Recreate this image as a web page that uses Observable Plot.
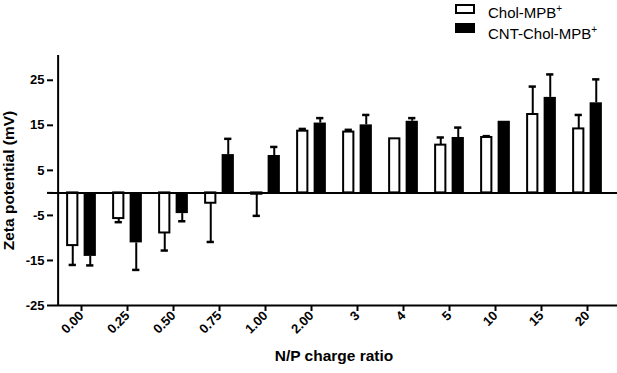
<!DOCTYPE html>
<html>
<head>
<meta charset="utf-8">
<script src="https://cdn.jsdelivr.net/npm/d3@7"></script>
<script src="https://cdn.jsdelivr.net/npm/@observablehq/plot@0.6"></script>
<style>
  body { margin: 0; background: #fff; }
  #wrap { position: relative; width: 617px; height: 373px; font-family: "Liberation Sans", Arial, sans-serif; }
  #legend { position: absolute; left: 455px; top: 0; width: 162px; height: 45px; font-size: 15px; color: #000; }
  .sw { position: absolute; left: 0; width: 20px; height: 10px; box-sizing: border-box; }
  .lab { position: absolute; left: 33px; line-height: 1; white-space: nowrap; }
  .lab sup { font-size: 10px; vertical-align: 0; position: relative; top: -6px; }
</style>
</head>
<body>
<div id="wrap">
  <div id="chart"></div>
  <div id="legend"></div>
</div>
<script>
const categories = ["0.00","0.25","0.50","0.75","1.00","2.00","3","4","5","10","15","20"];
const cholValues = [-11.7,-5.7,-8.9,-2.3,-0.3,13.7,13.5,12.0,10.6,12.3,17.4,14.2];
const cholErrors = [4.3,0.8,3.9,8.6,4.8,0.5,0.5,0,1.7,0.3,6.2,3.1];
const cntValues  = [-14.1,-11.1,-4.6,8.5,8.3,15.5,15.1,15.9,12.3,15.9,21.2,20.0];
const cntErrors  = [2.0,6.0,1.7,3.5,1.9,1.1,2.2,0.7,2.2,0,5.1,5.2];
const seriesNames = ["Chol-MPB", "CNT-Chol-MPB"];
const yTicks = [-25,-15,-5,0,5,15,25];

const chol = categories.map((c,i)=>({cat:c, value:cholValues[i], err:cholErrors[i]}));
const cnt  = categories.map((c,i)=>({cat:c, value:cntValues[i], err:cntErrors[i]}));
const end = d => d.value + Math.sign(d.value) * d.err;

const W = 617, H = 373, mL = 53, mR = 3, mT = 55, mB = 68;
const bw = (W - mL - mR) / categories.length;
const half = bw / 2;

const chart = Plot.plot({
  width: W, height: H,
  marginLeft: mL, marginRight: mR, marginTop: mT, marginBottom: mB,
  style: {fontFamily: "'Liberation Sans', Arial, sans-serif", fontSize: "13px", fontWeight: "bold", color: "#000", background: "#fff", overflow: "visible"},
  x: {type: "band", domain: categories, padding: 0, axis: null},
  y: {domain: [-25, 30.5], axis: null},
  marks: [
    Plot.barY(chol, {x:"cat", y1:0, y2:"value", fill:"white", stroke:"black", strokeWidth:2, insetLeft: half-14.25, insetRight: half+3.25}),
    Plot.barY(cnt, {x:"cat", y1:0, y2:"value", fill:"black", insetLeft: half+2.25, insetRight: half-15.25}),
    Plot.ruleX(chol.filter(d=>d.err>0), {x:"cat", y1:"value", y2:end, dx:-8.75, stroke:"black", strokeWidth:2}),
    Plot.ruleX(cnt.filter(d=>d.err>0), {x:"cat", y1:"value", y2:end, dx:8.75, stroke:"black", strokeWidth:2}),
    Plot.tickY(chol.filter(d=>d.err>0), {x:"cat", y:end, stroke:"black", strokeWidth:2.5, insetLeft: half-12.75, insetRight: half+4.75}),
    Plot.tickY(cnt.filter(d=>d.err>0), {x:"cat", y:end, stroke:"black", strokeWidth:2.5, insetLeft: half+4.75, insetRight: half-12.75}),
    Plot.ruleY([0], {stroke:"black", strokeWidth:2, insetLeft:-4, insetRight:-3}),
    Plot.ruleY([-25], {stroke:"black", strokeWidth:2, insetRight:-3}),
    Plot.ruleX([categories[0]], {y1:-25, y2:30.5, dx:-half, stroke:"black", strokeWidth:2}),
    Plot.axisY({ticks: yTicks, tickFormat: d => d === 0 ? "" : String(d), tickSize: 6, tickPadding: 3, strokeWidth: 2, label: null, fontSize: 13, fontWeight: "bold"}),
    Plot.axisX({tickRotate: -45, tickSize: 6, tickPadding: 2, strokeWidth: 2, label: null, fontSize: 13, fontWeight: "bold"}),
    Plot.text(["Zeta potential (mV)"], {frameAnchor: "left", dx: -40, rotate: -90, textAnchor: "middle", lineAnchor: "bottom", fontSize: 15.5, fontWeight: "bold"}),
    Plot.text(["N/P charge ratio"], {frameAnchor: "bottom", dy: 51, textAnchor: "middle", lineAnchor: "middle", fontSize: 15.5, fontWeight: "bold"})
  ]
});
document.getElementById("chart").appendChild(chart);

const legend = document.getElementById("legend");
const items = [
  {name: seriesNames[0], fill: "#fff", top: 3.5, textTop: 5},
  {name: seriesNames[1], fill: "#000", top: 23, textTop: 25.5}
];
items.forEach(it => {
  const sw = document.createElement("div");
  sw.className = "sw";
  sw.style.top = it.top + "px";
  sw.style.background = it.fill;
  sw.style.border = "2px solid #000";
  legend.appendChild(sw);
  const lab = document.createElement("div");
  lab.className = "lab";
  lab.style.top = it.textTop + "px";
  lab.innerHTML = it.name + "<sup>+</sup>";
  legend.appendChild(lab);
});
</script>
</body>
</html>
